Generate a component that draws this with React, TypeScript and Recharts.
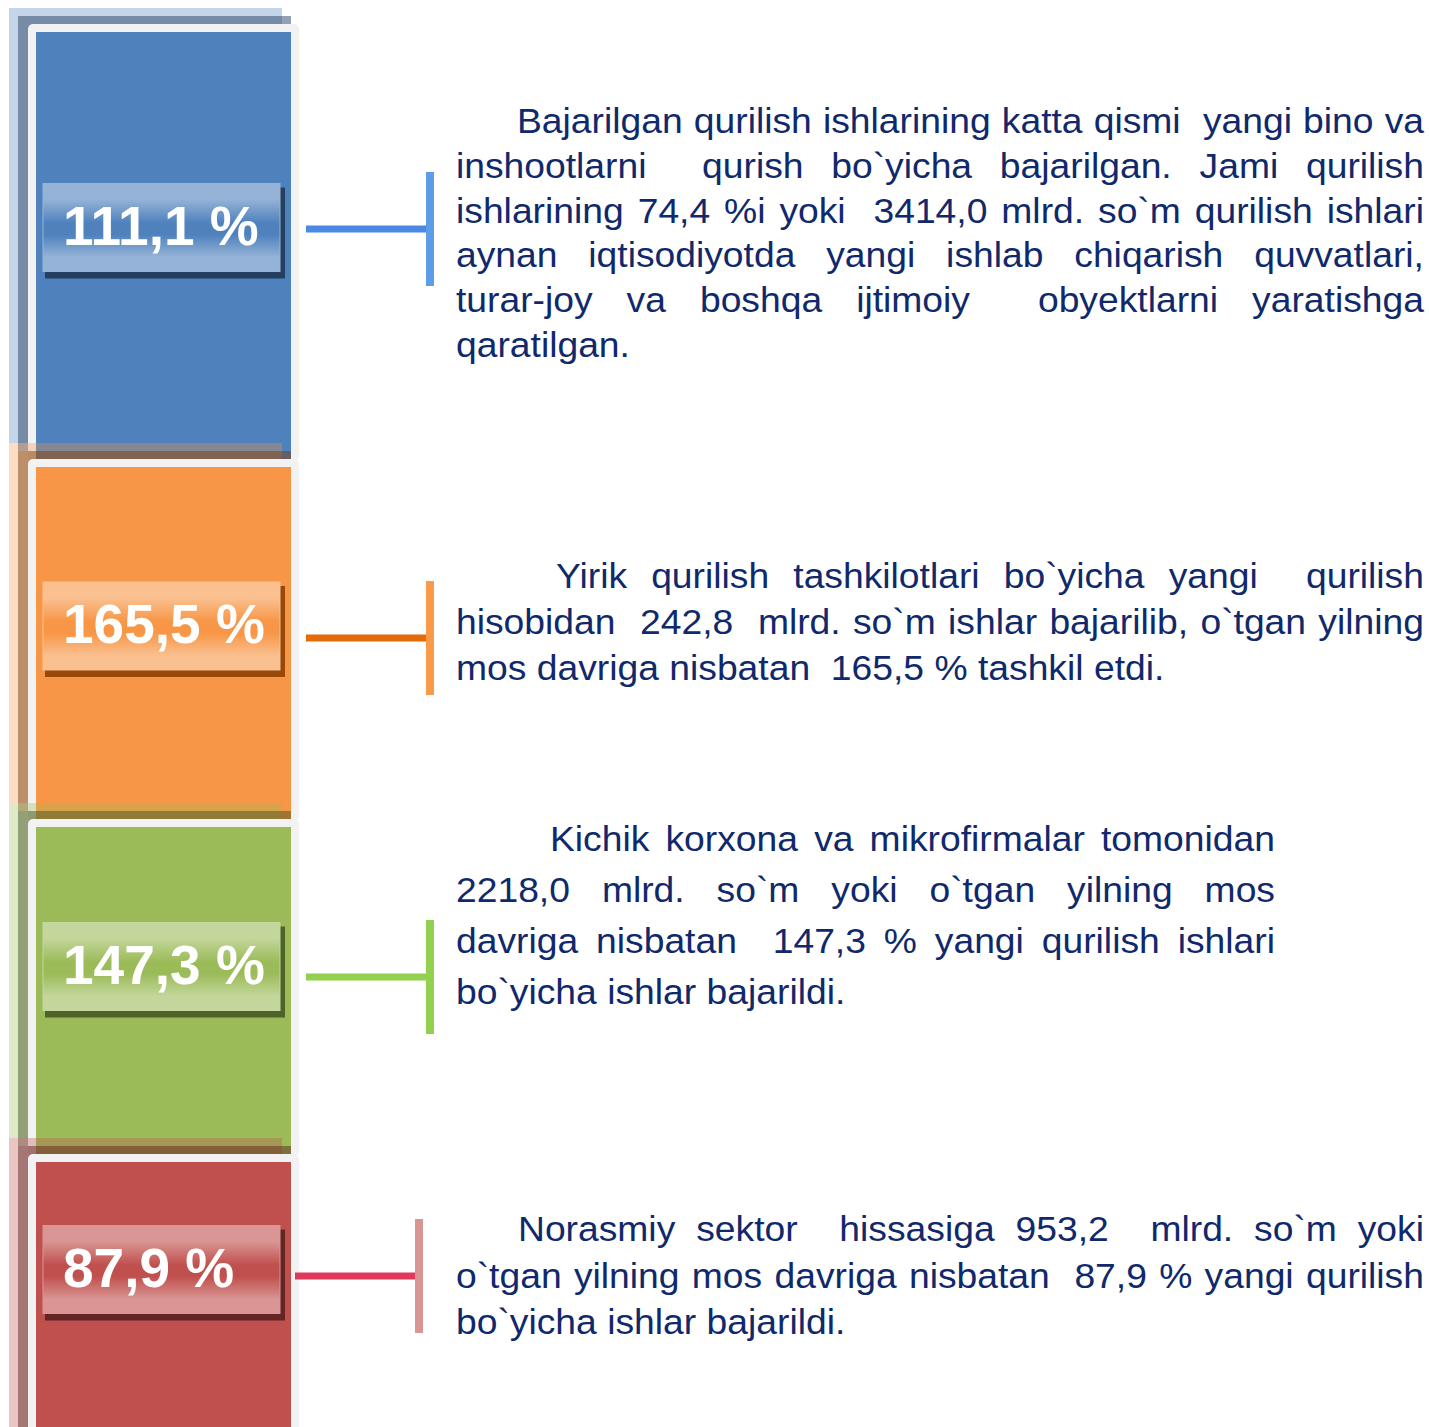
import { Bar, BarChart, XAxis, YAxis } from "recharts";

const sectors = [
  "Yangi bino va inshootlar",
  "Yirik qurilish tashkilotlari",
  "Kichik korxona va mikrofirmalar",
  "Norasmiy sektor",
];
const growthPct = [111.1, 165.5, 147.3, 87.9];
// length of each panel along the column
const panelLength = [435, 360, 335, 289];

const descriptions = [
  [
    "Bajarilgan qurilish ishlarining katta qismi  yangi bino va",
    "inshootlarni  qurish bo`yicha bajarilgan. Jami qurilish",
    "ishlarining 74,4 %i yoki  3414,0 mlrd. so`m qurilish ishlari",
    "aynan iqtisodiyotda yangi ishlab chiqarish quvvatlari,",
    "turar-joy va boshqa ijtimoiy  obyektlarni yaratishga",
    "qaratilgan.",
  ],
  [
    "Yirik qurilish tashkilotlari bo`yicha yangi  qurilish",
    "hisobidan  242,8  mlrd. so`m ishlar bajarilib, o`tgan yilning",
    "mos davriga nisbatan  165,5 % tashkil etdi.",
  ],
  [
    "Kichik korxona va mikrofirmalar tomonidan",
    "2218,0 mlrd. so`m yoki o`tgan yilning mos",
    "davriga nisbatan  147,3 % yangi qurilish ishlari",
    "bo`yicha ishlar bajarildi.",
  ],
  [
    "Norasmiy sektor  hissasiga 953,2  mlrd. so`m yoki",
    "o`tgan yilning mos davriga nisbatan  87,9 % yangi qurilish",
    "bo`yicha ishlar bajarildi.",
  ],
];

const chartData = [
  Object.fromEntries([
    ["name", "sektorlar"],
    ...panelLength.map((v, i) => [`s${i}`, v]),
  ]),
];
const total = panelLength.reduce((a, b) => a + b, 0);

const W = 1429;
const H = 1427;
const FONT = '"Liberation Sans", Arial, sans-serif';
const TEXT_SIZE = 34.5;
const TEXT_SX = 1.08;
const TEXT_COLOR = "#10296b";

const styles = [
  {
    fill: "#4f81bd", light: "#95b3d7", dark: "#1f3a5f", shadow: "#243f60",
    stub: "#4a88e6", post: "#5d9de8", stubX: 306, labelDy: 2, stubDy: 3.5,
    text: { left: 456, right: 1424, indent: 517, base: 133, step: 44.8 },
  },
  {
    fill: "#f79646", light: "#fac090", dark: "#7a3a06", shadow: "#984807",
    stub: "#e36c09", post: "#f99a4a", stubX: 306, labelDy: 3, stubDy: 15,
    text: { left: 456, right: 1424, indent: 556, base: 588, step: 46 },
  },
  {
    fill: "#9bbb59", light: "#c3d69b", dark: "#3f4f1f", shadow: "#4f6228",
    stub: "#92d050", post: "#92d050", stubX: 306, labelDy: -4, stubDy: 6.5,
    text: { left: 456, right: 1275, indent: 550, base: 851, step: 51 },
  },
  {
    fill: "#c0504d", light: "#d99694", dark: "#5a1f1d", shadow: "#632523",
    stub: "#de3a5c", post: "#d99594", stubX: 295, labelDy: -13, stubDy: -6.5,
    text: { left: 456, right: 1424, indent: 518, base: 1241, step: 46.5 },
  },
];

let measureCtx: CanvasRenderingContext2D | null = null;
function measure(s: string) {
  if (!measureCtx) {
    measureCtx = document.createElement("canvas").getContext("2d");
  }
  measureCtx!.font = `${TEXT_SIZE}px ${FONT}`;
  return measureCtx!.measureText(s).width * TEXT_SX;
}

// justified like a word processor: every space char stretches by the same amount
function Description({ sector }: { sector: number }) {
  const t = styles[sector].text;
  const lines = descriptions[sector];
  const spaceW = measure(" ");
  const out: any[] = [];
  lines.forEach((line, li) => {
    const tokens = line.trim().split(" ");
    const widths = tokens.map((w) => (w ? measure(w) : 0));
    const start = li === 0 ? t.indent : t.left;
    const last = li === lines.length - 1;
    const sum = widths.reduce((a, b) => a + b, 0);
    const nSpaces = tokens.length - 1;
    const step =
      !last && nSpaces > 0 ? (t.right - start - sum) / nSpaces : spaceW;
    let cx = start;
    const base = t.base + li * t.step;
    tokens.forEach((w, wi) => {
      if (w) {
        out.push(
          <text
            key={`${li}-${wi}`}
            transform={`translate(${cx} ${base}) scale(${TEXT_SX} 1)`}
            fontFamily={FONT}
            fontSize={TEXT_SIZE}
            fill={TEXT_COLOR}
          >
            {w}
          </text>
        );
      }
      cx += widths[wi] + step;
    });
  });
  return <g>{out}</g>;
}

function Panel(props: any) {
  const { x, y, width, height, sector } = props;
  const s = styles[sector];
  const top = height < 0 ? y + height : y;
  const h = Math.abs(height);
  const cy = top + h / 2;
  const boxTop = cy - 44 + s.labelDy;
  const lineY = cy + s.stubDy;
  const gid = `gloss-${sector}`;
  const label = growthPct[sector].toFixed(1).replace(".", ",") + " %";
  return (
    <g>
      <defs>
        <linearGradient id={gid} x1="0" y1="0" x2="0" y2="1">
          <stop offset="0" stopColor={s.light} />
          <stop offset="0.18" stopColor={s.light} />
          <stop offset="0.45" stopColor={s.fill} />
          <stop offset="0.58" stopColor={s.fill} />
          <stop offset="0.84" stopColor={s.light} />
          <stop offset="1" stopColor={s.light} />
        </linearGradient>
      </defs>
      <rect x={x} y={top} width={width - 16} height={h} fill={s.fill} opacity={0.33} />
      <rect x={x + 9} y={top + 8} width={width - 16} height={h} fill={s.dark} opacity={0.48} />
      <rect x={x + 19} y={top + 16} width={width - 18} height={h + 2} rx={5} fill="#f2f2f2" />
      <rect x={x + 27} y={top + 24} width={width - 34} height={h - 8} fill={s.fill} />

      <rect x={45} y={boxTop + 4} width={240} height={91} fill={s.shadow} />
      <rect x={43} y={boxTop} width={237} height={88} fill={`url(#${gid})`} stroke={s.light} strokeWidth={1} />
      <text
        x={63}
        y={boxTop + 61}
        fontFamily={FONT}
        fontWeight="bold"
        fontSize={55}
        fill="#ffffff"
      >
        {label}
      </text>

      <rect x={s.stubX} y={lineY - 3.5} width={120} height={7} fill={s.stub} />
      <rect x={s.stubX + 120} y={lineY - 57} width={8} height={114} fill={s.post} />

      <Description sector={sector} />
    </g>
  );
}

export default function App() {
  return (
    <div style={{ position: "absolute", left: 0, top: 0, background: "#fff" }}>
      <BarChart
        width={W}
        height={H}
        data={chartData}
        margin={{ top: 8, right: W - 298, bottom: 0, left: 9 }}
        barCategoryGap={0}
      >
        <XAxis dataKey="name" hide />
        <YAxis type="number" hide reversed domain={[0, total]} />
        {sectors.map((name, i) => (
          <Bar
            key={name}
            name={name}
            dataKey={`s${i}`}
            stackId="col"
            isAnimationActive={false}
            shape={(p: any) => <Panel {...p} sector={i} />}
          />
        ))}
      </BarChart>
    </div>
  );
}
